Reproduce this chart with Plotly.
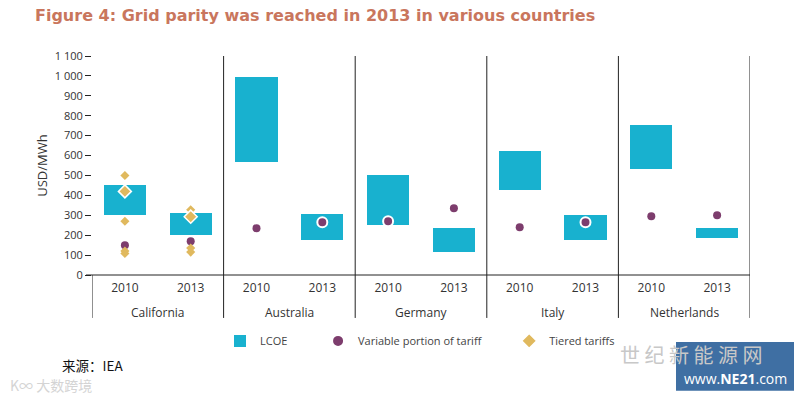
import plotly.graph_objects as go

countries = ["California", "Australia", "Germany", "Italy", "Netherlands"]
years = ["2010", "2013"]

# LCOE ranges (low, high) per country/year, in order Cal10, Cal13, Aus10, ...
lcoe_low = [300, 200, 570, 175, 250, 115, 425, 175, 530, 185]
lcoe_high = [450, 310, 995, 305, 500, 235, 625, 300, 755, 235]

# Variable portion of tariff
var_tariff = [150, 170, 235, 265, 270, 335, 240, 265, 295, 300]
var_ring = [False, False, False, True, True, False, False, True, False, False]

# Tiered tariffs (California only)
tier_2010 = [500, 420, 270, 120, 108]
tier_2013 = [328, 293, 135, 115]
tier_2010_big = [False, True, False, False, False]
tier_2013_big = [False, True, False, False]

y_ticks = [0, 100, 200, 300, 400, 500, 600, 700, 800, 900, 1000, 1100]
y_tick_text = ["0", "100", "200", "300", "400", "500", "600", "700", "800", "900", "1 000", "1 100"]

C_LCOE = "#18B1CF"
C_VAR = "#7D3D6D"
C_TIER = "#E0B95E"
TXT = "#333333"

# plot area in pixels
L, R, T, B = 92, 750, 55.7, 275
W, H = 800, 396


def px(x):
    return (x - L) / (R - L)


def py(y):
    return (B - y) / (B - T)


xpos = []
for i in range(len(countries)):
    xpos += [i + 0.25, i + 0.75]

NB = "\u00a0"

fig = go.Figure()

fig.add_trace(go.Bar(
    x=xpos, y=[h - l for h, l in zip(lcoe_high, lcoe_low)], base=lcoe_low,
    width=0.32, marker=dict(color=C_LCOE, line=dict(width=0)),
    name="LCOE" + NB * 9, hoverinfo="skip"))

fig.add_trace(go.Scatter(
    x=xpos, y=var_tariff, mode="markers", name="Variable portion of tariff" + NB * 8,
    marker=dict(symbol="circle", color=C_VAR, opacity=1,
                size=[10 if r else 8 for r in var_ring],
                line=dict(color="white", width=[2 if r else 0 for r in var_ring])),
    hoverinfo="skip"))

tx = [0.25] * len(tier_2010) + [0.75] * len(tier_2013)
ty = tier_2010 + tier_2013
tbig = tier_2010_big + tier_2013_big
fig.add_trace(go.Scatter(
    x=tx, y=ty, mode="markers", name="Tiered tariffs",
    marker=dict(symbol="diamond", color=C_TIER, opacity=1,
                size=[10 if b else 7 for b in tbig],
                line=dict(color="white", width=[1.5 if b else 0 for b in tbig])),
    hoverinfo="skip"))

shapes = []
line_bottom = py(318)
# separators between countries
for i in range(1, len(countries)):
    shapes.append(dict(type="line", xref="x", yref="paper", x0=i, x1=i,
                       y0=1, y1=line_bottom, line=dict(color="#222", width=1)))
# left separator below axis only
shapes.append(dict(type="line", xref="x", yref="paper", x0=0, x1=0,
                   y0=0, y1=line_bottom, line=dict(color="#222", width=1)))
# right double line
for xx in [5, 5 + 4 / 131.6]:
    shapes.append(dict(type="line", xref="x", yref="paper", x0=xx, x1=xx,
                       y0=1, y1=line_bottom, line=dict(color="#222", width=1)))
# x axis line at zero
shapes.append(dict(type="line", xref="paper", yref="paper", x0=px(86), x1=1,
                   y0=0, y1=0, line=dict(color="#222", width=1)))
# NE21 logo box
shapes.append(dict(type="rect", xref="paper", yref="paper",
                   x0=px(676), x1=px(794), y0=py(391), y1=py(342),
                   fillcolor="#3F6FA3", line=dict(width=0), layer="below"))

annotations = []
for i, c in enumerate(countries):
    annotations.append(dict(x=i + 0.5, y=py(313), xref="x", yref="paper", text=c,
                            showarrow=False, font=dict(size=12, color=TXT, family="Open Sans"),
                            xanchor="center", yanchor="middle"))
annotations.append(dict(x=px(60), y=py(365), xref="paper", yref="paper", text="来源：IEA",
                        showarrow=False, xanchor="left", yanchor="middle",
                        font=dict(size=13.5, color="#111", family="Noto Sans CJK SC")))
annotations.append(dict(x=px(8), y=py(385), xref="paper", yref="paper", text="K∞ 大数跨境",
                        showarrow=False, xanchor="left", yanchor="middle",
                        font=dict(size=14, color="#D4D4D4", family="Noto Sans CJK SC")))
annotations.append(dict(x=px(618), y=py(355), xref="paper", yref="paper",
                        text="世 纪 新 能 源 网",
                        showarrow=False, xanchor="left", yanchor="middle",
                        font=dict(size=20, color="#C8C8C8", family="Noto Sans CJK SC")))
annotations.append(dict(x=px(735), y=py(379), xref="paper", yref="paper",
                        text="www.<b>NE21</b>.com",
                        showarrow=False, xanchor="center", yanchor="middle",
                        font=dict(size=14, color="white", family="Open Sans")))

fig.update_layout(
    width=W, height=H,
    margin=dict(l=L, r=W - R, t=T, b=H - B, pad=0, autoexpand=False),
    paper_bgcolor="white", plot_bgcolor="white",
    title=dict(text="<b>Figure 4: Grid parity was reached in 2013 in various countries</b>",
               x=35 / W, xanchor="left", y=1 - 15 / H, yanchor="middle",
               font=dict(size=16, color="#C9765D", family="DejaVu Sans")),
    xaxis=dict(range=[0, 5], tickvals=xpos, ticktext=years * len(countries),
               showgrid=False, zeroline=False, showline=False, ticks="",
               ticklabelstandoff=4, automargin=False,
               tickfont=dict(size=12, color=TXT, family="Open Sans"), fixedrange=True),
    yaxis=dict(range=[0, 1100], tickvals=y_ticks, ticktext=y_tick_text,
               showgrid=False, zeroline=False, showline=False, automargin=False,
               ticks="outside", ticklen=6, tickcolor="#222", tickwidth=1,
               tickfont=dict(size=11, color=TXT, family="Open Sans"),
               title=dict(text="USD/MWh", standoff=4,
                          font=dict(size=13, color=TXT, family="Open Sans")),
               fixedrange=True),
    showlegend=True,
    legend=dict(orientation="h", x=px(220), y=py(341), xanchor="left", yanchor="middle",
                font=dict(size=11, color="#444", family="Open Sans"),
                itemsizing="constant", bgcolor="rgba(0,0,0,0)"),
    shapes=shapes, annotations=annotations,
    bargap=0,
)

fig.write_html("out.html", config={"displayModeBar": False},
               post_script="document.body.style.margin='0';")
